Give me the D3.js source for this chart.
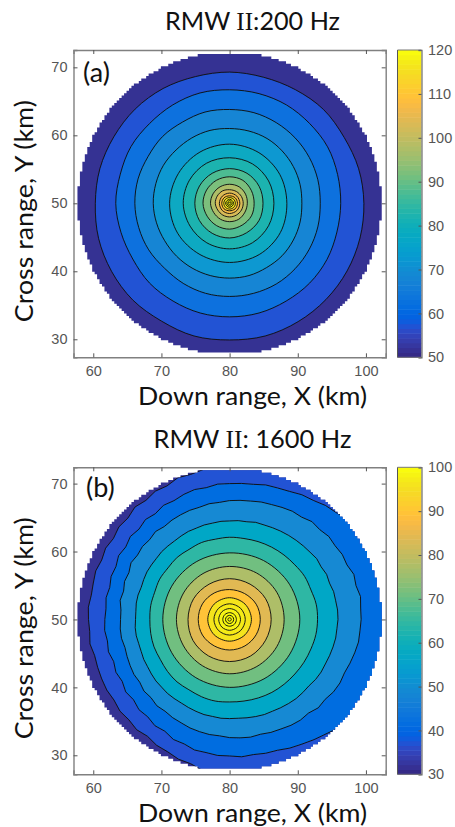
<!DOCTYPE html>
<html>
<head>
<meta charset="utf-8">
<script src="https://cdn.jsdelivr.net/npm/d3@7"></script>
<style>
  html, body { margin: 0; padding: 0; background: #fff; }
  svg { display: block; }
  .tick text { font-family: "Liberation Sans", Arial, sans-serif; font-size: 14.5px; fill: #555; }
  .lbl { font-family: Lato, "Open Sans", sans-serif; fill: #111; }
</style>
</head>
<body>
<script>
// matlab parula, 64 steps
const parula = [
  [.2081,.1663,.5292],[.2116,.1898,.5777],[.2123,.2138,.6270],[.2081,.2386,.6771],[.1959,.2645,.7279],[.1707,.2919,.7792],[.1253,.3242,.8303],[.0591,.3598,.8683],
  [.0117,.3875,.8820],[.0060,.4086,.8828],[.0165,.4266,.8786],[.0329,.4430,.8720],[.0498,.4586,.8641],[.0629,.4737,.8554],[.0723,.4887,.8467],[.0779,.5040,.8384],
  [.0793,.5200,.8312],[.0749,.5375,.8263],[.0641,.5570,.8240],[.0488,.5772,.8228],[.0343,.5966,.8199],[.0265,.6137,.8135],[.0239,.6287,.8038],[.0231,.6418,.7913],
  [.0228,.6535,.7768],[.0267,.6642,.7607],[.0384,.6743,.7436],[.0590,.6838,.7254],[.0843,.6928,.7062],[.1133,.7015,.6859],[.1453,.7098,.6646],[.1801,.7177,.6424],
  [.2178,.7250,.6193],[.2586,.7317,.5954],[.3022,.7376,.5712],[.3482,.7424,.5473],[.3953,.7459,.5244],[.4420,.7481,.5033],[.4871,.7491,.4840],[.5300,.7491,.4661],
  [.5709,.7485,.4494],[.6099,.7473,.4337],[.6473,.7456,.4188],[.6834,.7435,.4044],[.7184,.7411,.3905],[.7525,.7384,.3768],[.7858,.7356,.3633],[.8185,.7327,.3498],
  [.8507,.7299,.3360],[.8824,.7274,.3217],[.9139,.7258,.3063],[.9450,.7261,.2886],[.9739,.7314,.2666],[.9938,.7455,.2403],[.9990,.7653,.2164],[.9955,.7861,.1967],
  [.9880,.8066,.1794],[.9789,.8271,.1633],[.9697,.8481,.1475],[.9626,.8705,.1309],[.9589,.8949,.1132],[.9598,.9218,.0948],[.9661,.9514,.0755],[.9763,.9831,.0538]
].map(c => d3.rgb(c[0] * 255, c[1] * 255, c[2] * 255).formatHex())

const xTicks = [60, 70, 80, 90, 100]
const yTicks = [30, 40, 50, 60, 70]
const cbTicksA = [50, 60, 70, 80, 90, 100, 110, 120]
const cbTicksB = [30, 40, 50, 60, 70, 80, 90, 100]
const center = [80, 50]
const diskRadius = 22.3

// band value between contours, outer band first
const bandsA = [52, 57.5, 62.5, 67.5, 72.5, 77.5, 82.5, 87.5, 92.5, 97.5, 102.5, 107.5, 112.5, 117.5, 119, 120, 120]
const bandsB = [32, 37, 42, 49, 57, 64, 71, 78, 84, 90, 96, 97, 98, 99, 99, 100, 100]

// contour radius in km, going round from east, anticlockwise
const contoursA = [
  [19.7,19.6,19.4,19.5,19.3,19.2,19.3,19.3,19.5,19.6,19.6,19.7,19.7,19.9,20.0,20.1,20.0,20.2,20.1,20.2,20.1,20.0,19.9,19.8],
  [16.3,16.4,16.6,16.6,16.7,16.7,16.7,16.8,16.7,16.6,16.7,16.6,16.7,16.5,16.4,16.6,16.6,16.7,16.7,16.7,16.6,16.6,16.5,16.3],
  [13.3,13.4,13.5,13.6,13.7,13.8,13.8,13.9,13.8,13.9,13.8,13.9,13.9,13.8,13.7,13.5,13.6,13.7,13.7,13.7,13.7,13.6,13.5,13.4],
  [10.6,10.7,10.8,10.9,11,11,11,11.1,11.1,11.1,11.2,11.2,11.2,11.1,11,11,11,11,11,11,10.9,10.9,10.8,10.7],
  [8.4,8.5,8.6,8.7,8.7,8.7,8.8,8.8,8.7,8.7,8.7,8.6],
  [6.5,6.6,6.7,6.7,6.8,6.8,6.8,6.7,6.7,6.7,6.7,6.6],
  [4.9,5,5.1,5.1,5.1,5.1,5.1,5.1,5.1,5.1,5,5],
  [3.6,3.7,3.9,3.9,3.9,3.9,3.9,3.8,3.8,3.8,3.7,3.7],
  [2.6,2.7,2.8,2.8,2.8,2.8,2.8,2.7,2.7,2.7,2.7,2.6],
  [2,2,2,2,2.1,2.1,2.1,2,2,2,2,2],
  [1.5,1.5,1.5,1.5,1.5,1.5,1.5,1.5],
  [1.15,1.15,1.1,1.15,1.15,1.15,1.1,1.15],
  [.85,.85,.85,.85,.85,.85,.85,.85],
  [.6,.55,.6,.55,.6,.55,.6,.55],
  [.4,.35,.4,.35,.4,.35,.4,.35],
  [.2,.2,.15,.2,.2,.2,.15,.2]
]
// the outer rings are rough, so they are read every 5 degrees
const contoursB = [
  [24,24,24,24,24,24,24,24,24,24,24,24,24,24,24,24,24,24,24,24,
   22.4,22.1,22.2,21.7,21.8,21.4,21.6,21.1,21.2,20.8,21,20.7,20.9,20.7,20.6,20.8,20.7,20.6,20.8,20.5,20.6,20.7,20.8,20.7,21,20.9,21.2,21,21.4,21.5,21.9,22,22.6,23,
   24,24,24,24,24,24,24,24,24,24,24,24,24,24,24,24,24,24],
  [24,24,24,24,24,24,23.6,23,22.8,22.2,21.9,21.4,21.2,20.8,20.6,20.5,20.2,20.1,20,20,19.7,19.8,19.6,19.3,19.4,19,19.2,18.8,19,18.6,18.8,18.4,18.5,18.2,18.4,18.2,
   18.3,18.4,18.2,18.4,18.1,18.4,18.2,18.6,18.4,18.8,18.7,19.1,19,19.5,19.5,19.9,19.9,20.1,20.1,20.3,20.2,20.4,20.5,20.9,21.2,21.6,22,22.6,23,23.6,24,24,24,24,24,24],
  [19.3,19.3,19.5,19.2,19.4,19,19.1,18.9,19,18.7,18.8,18.4,18.4,18.2,18,17.9,17.7,17.6,17.5,17.3,17.3,17.1,17.1,17,16.9,16.7,16.9,16.6,16.7,16.5,16.7,16.3,16.4,16.1,16.3,16,
   16,16.1,16.1,15.9,16,16.1,16.2,16.1,16.4,16.3,16.6,16.5,16.7,16.8,17,17.1,17.2,17.2,17.4,17.5,17.6,17.5,17.7,17.8,18,18.1,18,18.4,18.3,18.6,18.7,18.6,18.8,19,19.2,19.2],
  [15.9,15.9,15.8,15.8,15.6,15.7,15.5,15.6,15.4,15.3,15.2,15.1,15,14.9,14.8,14.8,14.6,14.6,14.5,14.5,14.4,14.4,14.3,14.3,14.2,14.1,14.1,14.1,14,14,14,13.9,13.8,13.9,13.9,13.8,
   13.8,13.9,13.9,13.8,13.8,13.9,13.9,14,14.1,14.1,14.2,14.2,14.2,14.3,14.4,14.5,14.5,14.6,14.6,14.6,14.7,14.8,14.9,14.9,15,15.1,15.2,15.2,15.2,15.4,15.5,15.5,15.6,15.7,15.8,15.8],
  [12.9,12.9,12.7,12.7,12.5,12.4,12.3,12.2,12.1,12.1,12,12.05,11.9,11.95,11.8,11.85,11.7,11.75,11.7,11.75,11.8,11.75,11.9,12,11.95,12.1,12.2,12.15,12.2,12.3,12.4,12.45,12.5,12.6,12.7,12.85],
  [10.3,10.2,10,9.8,9.8,9.8,9.8,9.8,9.9,10,10.1,10.2],
  [8,8,7.9,7.8,7.8,7.8,7.8,7.8,7.9,8,8,8],
  [6.1,6.1,6,6,6,6.1,6.1,6.2,6.2,6.2,6.2,6.1],
  [4.5,4.5,4.4,4.4,4.5,4.6,4.6,4.6,4.5,4.5,4.5,4.5],
  [3.2,3.2,3.2,3.2,3.2,3.2,3.2,3.2],
  [2.3,2.3,2.3,2.3,2.3,2.3,2.3,2.3],
  [1.6,1.6,1.6,1.6,1.6,1.6,1.6,1.6],
  [1,1,1,1,1,1,1,1],
  [.6,.6,.6,.6,.6,.6,.6,.6],
  [.25,.25,.25,.25,.25,.25,.25,.25]
]

const svg = d3.select('body').append('svg').attr('width', 455).attr('height', 827)

// the source picture is a bit soft, this takes the hard edge off the map
svg.append('filter').attr('id', 'soft').append('feGaussianBlur').attr('stdDeviation', 0.45)

const smooth = d3.line().curve(d3.curveCatmullRomClosed)
const rough = d3.line().curve(d3.curveLinearClosed)

function drawPanel(o) {
  const x = d3.scaleLinear().domain([57.1, 102.9]).range([73.5, 385.7])
  const y = d3.scaleLinear().domain(o.yDomain).range([o.bottom, o.top])
  const color = d3.scaleQuantize().domain(o.cbDomain).range(parula)

  const g = svg.append('g')

  // stair-stepped edge of the disk, the grid cells are visible in the picture
  const cell = 0.36
  const rows = d3.range(-Math.floor(diskRadius / cell), Math.floor(diskRadius / cell)).map(d => {
    const dy = (d + 0.5) * cell
    return { d: d, half: Math.round(Math.sqrt(diskRadius * diskRadius - dy * dy) / cell) * cell }
  })
  const right = rows.flatMap(r => [[x(center[0] + r.half), y(center[1] + r.d * cell)], [x(center[0] + r.half), y(center[1] + (r.d + 1) * cell)]])
  const left = rows.slice().reverse().flatMap(r => [[x(center[0] - r.half), y(center[1] + (r.d + 1) * cell)], [x(center[0] - r.half), y(center[1] + r.d * cell)]])
  g.append('clipPath').attr('id', 'disk-' + o.id)
    .append('path')
    .attr('d', rough(right.concat(left)))

  const map = g.append('g').attr('filter', 'url(#soft)')
    .append('g').attr('clip-path', 'url(#disk-' + o.id + ')')

  map.append('circle')
    .attr('cx', x(center[0]))
    .attr('cy', y(center[1]))
    .attr('r', (x(center[0] + 24) - x(center[0])))
    .attr('fill', color(o.bands[0]))

  const toPath = radii => (radii.length > 40 ? rough : smooth)(radii.map((r, i) => {
    const a = i / radii.length * 2 * Math.PI
    return [x(center[0] + r * Math.cos(a)), y(center[1] + r * Math.sin(a))]
  }))

  map.selectAll('path')
    .data(o.contours)
    .enter()
    .append('path')
    .attr('d', toPath)
    .attr('fill', (d, i) => color(o.bands[i + 1]))
    .attr('stroke', '#111')
    .attr('stroke-width', 0.95)

  // frame and ticks
  const xAxis = d3.axisBottom(x).tickValues(xTicks).tickSize(-4).tickPadding(8.5)
  const yAxis = d3.axisLeft(y).tickValues(yTicks).tickSize(-4).tickPadding(6)
  g.append('g').attr('transform', `translate(0,${o.bottom})`).call(xAxis).call(styleAxis)
  g.append('g').attr('transform', 'translate(73.5,0)').call(yAxis).call(styleAxis)
  g.append('g').attr('transform', `translate(0,${o.top})`)
    .call(d3.axisTop(x).tickValues(xTicks).tickSize(-4).tickFormat('')).call(styleAxis)
  g.append('g').attr('transform', 'translate(385.7,0)')
    .call(d3.axisRight(y).tickValues(yTicks).tickSize(-4).tickFormat('')).call(styleAxis)

  // colorbar
  const cb = d3.scaleLinear().domain(o.cbDomain).range([o.bottom, o.top])
  const cbStep = (o.cbDomain[1] - o.cbDomain[0]) / parula.length
  g.append('g').selectAll('rect')
    .data(parula)
    .enter()
    .append('rect')
    .attr('x', 397.5)
    .attr('width', 24)
    .attr('y', (d, i) => cb(o.cbDomain[0] + (i + 1) * cbStep))
    .attr('height', (o.bottom - o.top) / parula.length + 0.5)
    .attr('fill', d => d)
  g.append('g').attr('transform', 'translate(421.5,0)')
    .call(d3.axisRight(cb).tickValues(o.cbTicks).tickSize(-3).tickPadding(6.5))
    .call(styleAxis)
  g.append('line').attr('x1', 397.5).attr('x2', 397.5).attr('y1', o.top).attr('y2', o.bottom)
    .attr('stroke', '#555').attr('stroke-width', 1)
  g.append('line').attr('x1', 397.5).attr('x2', 421.5).attr('y1', o.top).attr('y2', o.top)
    .attr('stroke', '#777').attr('stroke-width', 1)
  g.append('line').attr('x1', 397.5).attr('x2', 421.5).attr('y1', o.bottom).attr('y2', o.bottom)
    .attr('stroke', '#777').attr('stroke-width', 1)

  // labels
  const title = g.append('text').attr('class', 'lbl').attr('x', 252.5).attr('y', o.top + o.titleDy)
    .attr('text-anchor', 'middle').style('font-size', '25.5px')
    .attr('textLength', o.titleWidth).attr('lengthAdjust', 'spacingAndGlyphs')
  title.append('tspan').text('RMW ')
  title.append('tspan').style('font-family', '"Liberation Serif", serif').text('II')
  title.append('tspan').text(o.title)
  g.append('text').attr('class', 'lbl').attr('x', 252.5).attr('y', o.bottom + 48)
    .attr('text-anchor', 'middle').style('font-size', '25px')
    .attr('textLength', 229).attr('lengthAdjust', 'spacingAndGlyphs').text('Down range, X (km)')
  g.append('text').attr('class', 'lbl')
    .attr('transform', `translate(33,${(o.top + o.bottom) / 2 + 7.5}) rotate(-90)`)
    .attr('text-anchor', 'middle').style('font-size', '25px')
    .attr('textLength', 222).attr('lengthAdjust', 'spacingAndGlyphs').text('Cross range, Y (km)')
  g.append('text').attr('class', 'lbl').attr('x', o.tagX).attr('y', o.top + o.tagDy)
    .style('font-size', '27px').text(o.tag)
}

function styleAxis(sel) {
  sel.select('.domain').attr('stroke', '#808080').attr('stroke-width', 1.4)
  sel.selectAll('.tick line').attr('stroke', '#555')
}

drawPanel({
  id: 'a', top: 50, bottom: 357.3, yDomain: [27.35, 72.55], cbDomain: [50, 120],
  cbTicks: cbTicksA, bands: bandsA, contours: contoursA,
  title: ':200 Hz', titleWidth: 175, titleDy: -20, tag: '(a)', tagX: 83, tagDy: 32
})
drawPanel({
  id: 'b', top: 467.3, bottom: 774.3, yDomain: [27.2, 72.4], cbDomain: [30, 100],
  cbTicks: cbTicksB, bands: bandsB, contours: contoursB,
  title: ': 1600 Hz', titleWidth: 198, titleDy: -19.5, tag: '(b)', tagX: 86, tagDy: 30
})
</script>
</body>
</html>
